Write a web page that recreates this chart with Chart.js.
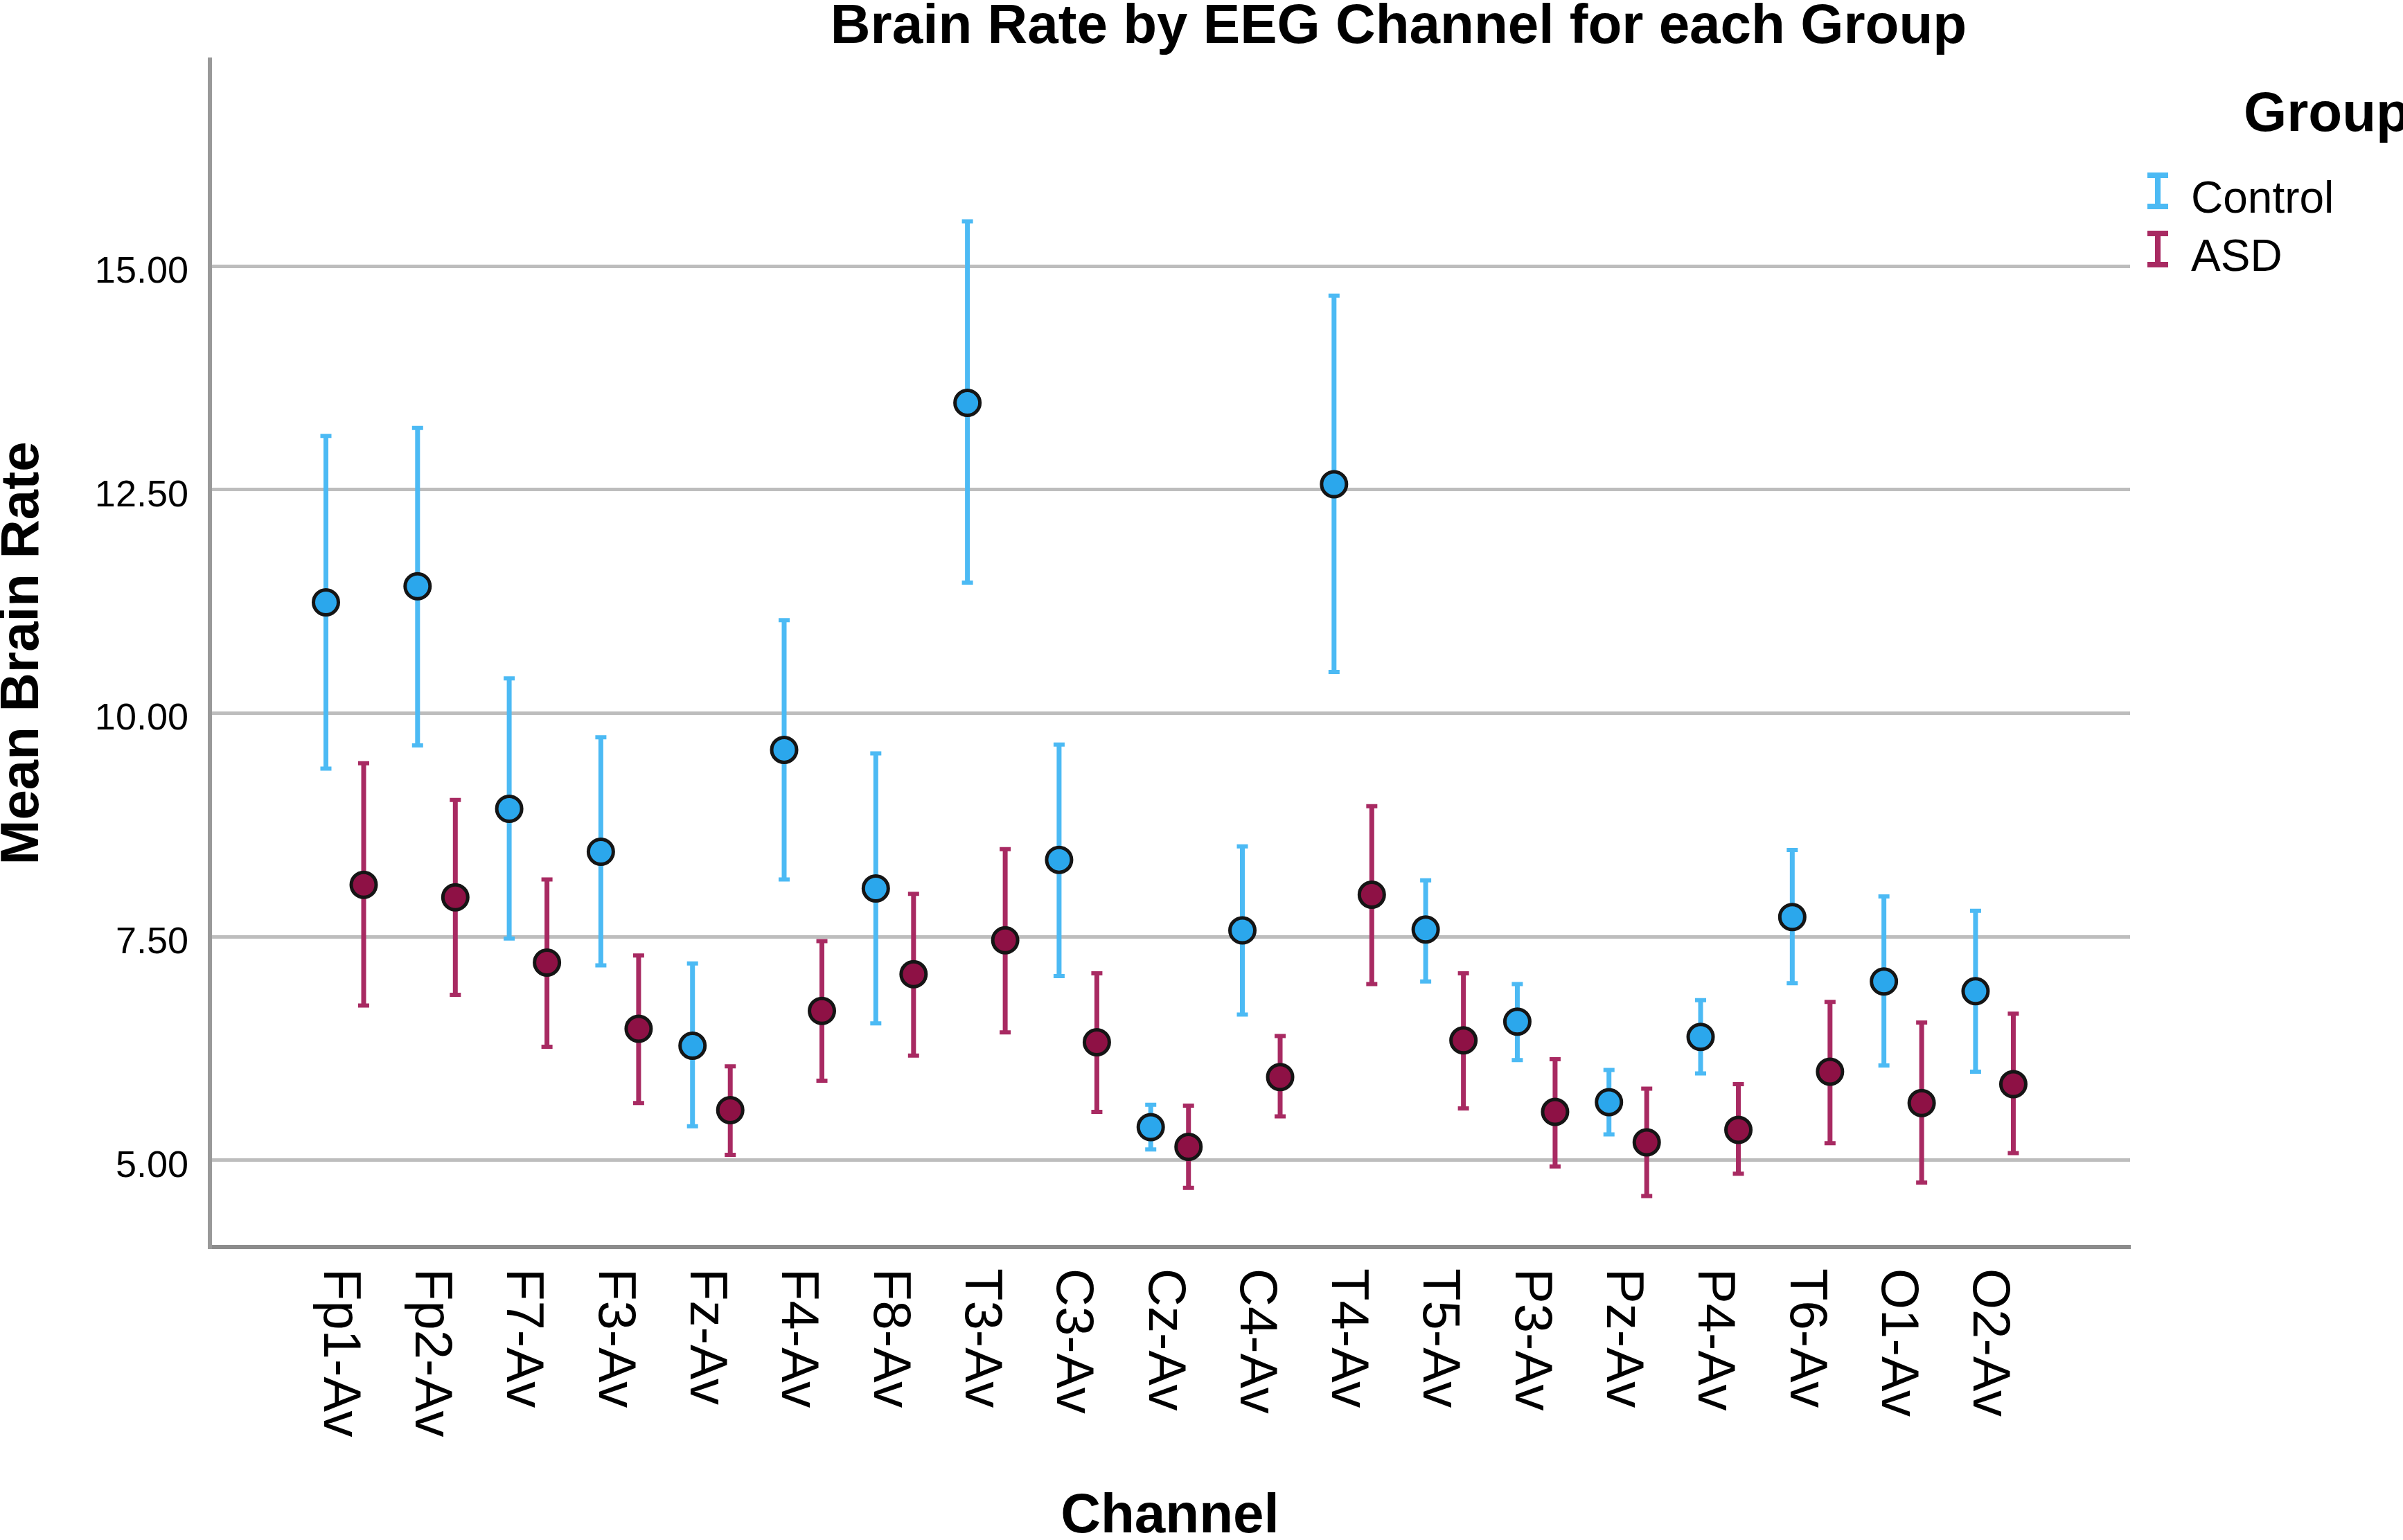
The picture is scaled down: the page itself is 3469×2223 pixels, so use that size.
<!DOCTYPE html>
<html>
<head>
<meta charset="utf-8">
<title>Brain Rate by EEG Channel for each Group</title>
<script src="https://cdn.jsdelivr.net/npm/chart.js@4.4.1/dist/chart.umd.min.js"></script>
<style>
  html, body { margin: 0; padding: 0; background: #fff; }
  #wrap { width: 3469px; height: 2223px; }
</style>
</head>
<body>
<div id="wrap"><canvas id="rateChart"></canvas></div>
<script>
const channels = ["Fp1-Av", "Fp2-Av", "F7-Av", "F3-Av", "Fz-Av", "F4-Av", "F8-Av", "T3-Av", "C3-Av", "Cz-Av",
  "C4-Av", "T4-Av", "T5-Av", "P3-Av", "Pz-Av", "P4-Av", "T6-Av", "O1-Av", "O2-Av"]

const controlMean = [11.24, 11.42, 8.93, 8.45, 6.28, 9.59, 8.04, 13.47, 8.36, 5.37, 7.57, 12.56, 7.58, 6.55, 5.65, 6.38, 7.72, 7.00, 6.89]
const controlLow  = [9.38, 9.64, 7.48, 7.18, 5.38, 8.14, 6.53, 11.46, 7.06, 5.12, 6.63, 10.46, 7.00, 6.12, 5.29, 5.97, 6.98, 6.06, 5.99]
const controlHigh = [13.10, 13.19, 10.39, 9.73, 7.20, 11.04, 9.55, 15.50, 9.65, 5.62, 8.51, 14.67, 8.13, 6.97, 6.01, 6.79, 8.47, 7.95, 7.79]

const asdMean = [8.08, 7.94, 7.21, 6.47, 5.56, 6.67, 7.08, 7.46, 6.32, 5.15, 5.93, 7.97, 6.34, 5.54, 5.20, 5.34, 5.99, 5.64, 5.85]
const asdLow  = [6.73, 6.85, 6.27, 5.64, 5.06, 5.89, 6.17, 6.43, 5.54, 4.69, 5.49, 6.97, 5.58, 4.93, 4.60, 4.85, 5.19, 4.75, 5.08]
const asdHigh = [9.44, 9.03, 8.14, 7.29, 6.05, 7.45, 7.98, 8.48, 7.09, 5.61, 6.39, 8.96, 7.09, 6.13, 5.80, 5.85, 6.77, 6.54, 6.64]

const yTicks = [5, 7.5, 10, 12.5, 15]

const FONT = '"Liberation Sans", Arial, sans-serif'
const shift = 0.206   // dodge of each group inside a channel

// whiskers + caps, drawn under the points
const errorBars = {
  id: 'errorBars',
  beforeDatasetsDraw(chart) {
    const {ctx, scales: {x, y}} = chart
    chart.data.datasets.forEach(ds => {
      ctx.save()
      ctx.strokeStyle = ds.barColor
      ds.data.forEach((p, i) => {
        const px = x.getPixelForValue(p.x)
        const top = y.getPixelForValue(ds.high[i])
        const bot = y.getPixelForValue(ds.low[i])
        ctx.lineWidth = 7
        ctx.beginPath()
        ctx.moveTo(px, top)
        ctx.lineTo(px, bot)
        ctx.stroke()
        ctx.lineWidth = 6
        ctx.beginPath()
        ctx.moveTo(px - 8, top); ctx.lineTo(px + 8, top)
        ctx.moveTo(px - 8, bot); ctx.lineTo(px + 8, bot)
        ctx.stroke()
      })
      ctx.restore()
    })
  }
}

// channel names, rotated to read top to bottom
const channelLabels = {
  id: 'channelLabels',
  afterDraw(chart) {
    const {ctx, scales: {x}} = chart
    ctx.save()
    ctx.font = '76px ' + FONT
    ctx.fillStyle = '#000'
    ctx.textAlign = 'left'
    ctx.textBaseline = 'middle'
    channels.forEach((c, i) => {
      ctx.save()
      ctx.translate(x.getPixelForValue(i) - 9, x.top + 31)
      ctx.rotate(Math.PI / 2)
      ctx.fillText(c, 0, 0)
      ctx.restore()
    })
    ctx.restore()
  }
}

// title and group legend
const titleLegend = {
  id: 'titleLegend',
  afterDraw(chart) {
    const {ctx, chartArea} = chart
    ctx.save()
    ctx.fillStyle = '#000'
    ctx.textBaseline = 'alphabetic'
    ctx.textAlign = 'center'
    ctx.font = 'bold 80px ' + FONT
    ctx.fillText('Brain Rate by EEG Channel for each Group', 2019, 62)

    const lx = chartArea.right + 25
    ctx.textAlign = 'left'
    ctx.fillText('Group', lx + 139, 189)

    chart.data.datasets.forEach((ds, k) => {
      const top = 249 + k * 84
      const bot = top + 53
      const cx = lx + 15
      ctx.strokeStyle = ds.barColor
      ctx.lineWidth = 8
      ctx.beginPath()
      ctx.moveTo(cx, top); ctx.lineTo(cx, bot)
      ctx.stroke()
      ctx.beginPath()
      ctx.moveTo(cx - 15, top + 4); ctx.lineTo(cx + 15, top + 4)
      ctx.moveTo(cx - 15, bot - 4); ctx.lineTo(cx + 15, bot - 4)
      ctx.stroke()
      ctx.font = '64px ' + FONT
      ctx.fillText(ds.label, lx + 63, bot + 5)
    })
    ctx.restore()
  }
}

new Chart(document.getElementById('rateChart'), {
  type: 'scatter',
  data: {
    datasets: [{
      label: 'Control',
      data: controlMean.map((v, i) => ({x: i - shift, y: v})),
      low: controlLow,
      high: controlHigh,
      barColor: '#4cbaf4',
      backgroundColor: '#2ba7ec',
      borderColor: '#151515',
      borderWidth: 5,
      pointRadius: 18
    }, {
      label: 'ASD',
      data: asdMean.map((v, i) => ({x: i + shift, y: v})),
      low: asdLow,
      high: asdHigh,
      barColor: '#a82a62',
      backgroundColor: '#8e1145',
      borderColor: '#151515',
      borderWidth: 5,
      pointRadius: 18
    }]
  },
  options: {
    responsive: true,
    maintainAspectRatio: false,
    devicePixelRatio: 1,
    animation: false,
    layout: { padding: { left: 0, top: 86, right: 394, bottom: 0 } },
    plugins: {
      legend: { display: false },
      title: { display: false },
      tooltip: { enabled: false }
    },
    scales: {
      x: {
        type: 'linear',
        min: -1.472,
        max: 19.48,
        grid: { display: false },
        border: { display: true, color: '#8c8c8c', width: 6 },
        ticks: { display: false },
        title: {
          display: true,
          text: 'Channel',
          color: '#000',
          padding: 0,
          font: { family: FONT, size: 80, weight: 'bold', lineHeight: '66px' }
        },
        afterFit(scale) { scale.height = 423 }
      },
      y: {
        min: 4.03,
        max: 17.31,
        afterBuildTicks(scale) { scale.ticks = yTicks.map(v => ({value: v})) },
        grid: { color: '#bdbdbd', lineWidth: 5, drawTicks: false },
        border: { display: true, color: '#999999', width: 6 },
        ticks: {
          color: '#000',
          padding: 31,
          labelOffset: 9,
          font: { family: FONT, size: 54 },
          callback: v => Number(v).toFixed(2)
        },
        title: {
          display: true,
          text: 'Mean Brain Rate',
          color: '#000',
          padding: 0,
          font: { family: FONT, size: 78, weight: 'bold', lineHeight: '66px' }
        },
        afterFit(scale) { scale.width = 303 }
      }
    }
  },
  plugins: [errorBars, channelLabels, titleLegend]
})
</script>
</body>
</html>
